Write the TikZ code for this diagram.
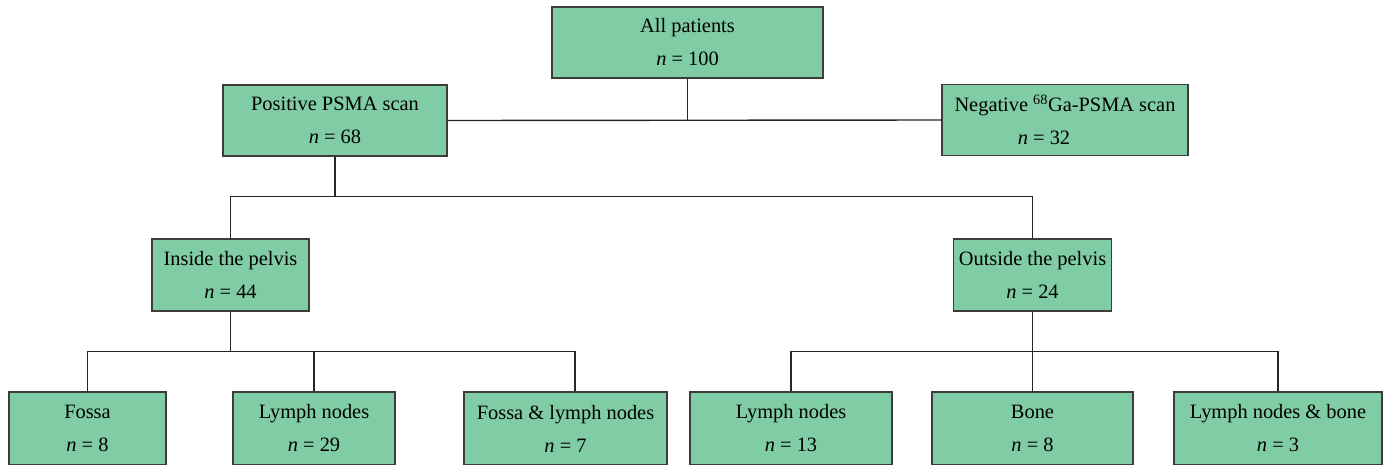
\documentclass[tikz,border=0pt]{standalone}
\usepackage{fontspec}
\setmainfont{Liberation Serif}
\definecolor{boxgreen}{RGB}{128,204,165}
\definecolor{boxedge}{RGB}{60,60,60}
\tikzset{
  box/.style={draw=boxedge, fill=boxgreen, line width=1.4pt, align=center,
    inner sep=0pt, minimum height=71pt, font=\fontsize{20.4}{33}\selectfont},
  link/.style={line width=1.4pt, draw=black!85},
}

\begin{document}
\begin{tikzpicture}[x=1pt,y=-1pt]
\useasboundingbox (0,0) rectangle (1383,464);

% top
\node [box, minimum width=271pt] (all) at (687.5,42.5) {All patients\\\textit{n} = 100};

\node [box, minimum width=224pt] (pos) at (335,120.5) {Positive PSMA scan\\\textit{n} = 68};
\node [box, minimum width=246pt] (neg) at (1065,120) {Negative \textsuperscript{68}Ga-PSMA scan\\\textit{n} = 32\hspace*{42pt}};

\draw [link] (pos.east) -- (neg.west);
\draw [link] (all.south) -- (all.south |- pos.east);

% pelvis
\node [box, minimum width=157pt, minimum height=72pt] (in) at (230.5,275) {Inside the pelvis\\\textit{n} = 44};
\node [box, minimum width=158pt, minimum height=72pt] (out) at (1032.5,275) {Outside the pelvis\\\textit{n} = 24};

\coordinate (bus1) at (0,196.5);
\draw [link] (pos.south) -- (pos.south |- bus1);
\draw [link] (in.north) |- (out.north |- bus1) -- (out.north);

% sites
\node [box, minimum width=157pt, minimum height=73pt] (fossa) at (87.5,428.5) {Fossa\\\textit{n} = 8};
\node [box, minimum width=162pt, minimum height=73pt] (lymph) at (314,428.5) {Lymph nodes\\\textit{n} = 29};
\node [box, minimum width=203pt, minimum height=73pt] (fl) at (565.5,428.5) {Fossa \& lymph nodes\\\textit{n} = 7};

\node [box, minimum width=202pt, minimum height=73pt] (lymphout) at (791,428.5) {Lymph nodes\\\textit{n} = 13};
\node [box, minimum width=201pt, minimum height=73pt] (bone) at (1032.5,428.5) {Bone\\\textit{n} = 8};
\node [box, minimum width=208pt, minimum height=73pt] (lb) at (1278,428.5) {Lymph nodes \& bone\\\textit{n} = 3};

\coordinate (bus2) at (0,351.5);
\draw [link] (in.south) -- (in.south |- bus2);
\draw [link] (fossa.north) |- ([xshift=9.5pt]fl.north |- bus2) -- ([xshift=9.5pt]fl.north);
\draw [link] (lymph.north) -- (lymph.north |- bus2);

\draw [link] (out.south) -- (bone.north);
\draw [link] (lymphout.north) |- (lb.north |- bus2) -- (lb.north);
\end{tikzpicture}
\end{document}
